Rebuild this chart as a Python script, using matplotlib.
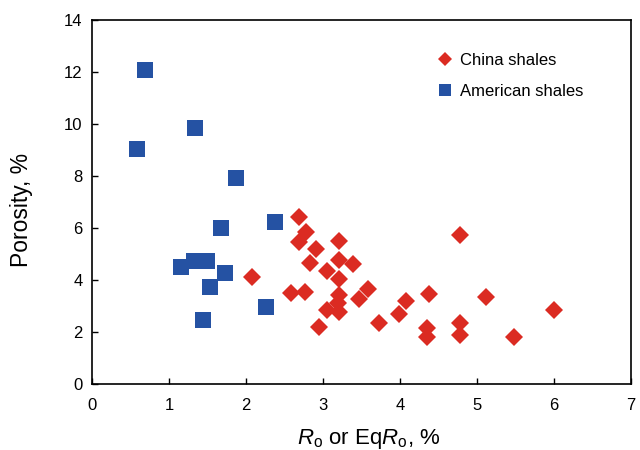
import matplotlib
matplotlib.use("Agg")
import matplotlib.pyplot as plt

plt.rcParams['font.family'] = ['Liberation Sans', 'DejaVu Sans']
plt.rcParams['mathtext.fontset'] = 'custom'
plt.rcParams['mathtext.rm'] = 'Liberation Sans'
plt.rcParams['mathtext.it'] = 'Liberation Sans:italic'

# China shales
china_ro = [2.07, 2.58, 2.76, 2.69, 2.69, 2.78, 2.91, 2.83, 2.95, 3.05, 3.05,
            3.20, 3.20, 3.20, 3.20, 3.19, 3.20, 3.39, 3.47, 3.58, 3.72, 3.98,
            4.08, 4.35, 4.35, 4.37, 4.78, 4.78, 4.78, 5.12, 5.48, 6.00]
china_por = [4.10, 3.48, 3.54, 6.43, 5.47, 5.84, 5.20, 4.63, 2.18, 4.35, 2.85,
             5.50, 4.77, 4.03, 3.42, 3.10, 2.78, 4.62, 3.27, 3.65, 2.35, 2.69,
             3.20, 2.14, 1.79, 3.47, 5.72, 2.35, 1.87, 3.34, 1.82, 2.83]

# American shales
us_ro = [0.68, 0.58, 1.34, 1.87, 1.68, 2.38, 1.15, 1.32, 1.49, 1.73, 1.53, 1.44, 2.26]
us_por = [12.08, 9.04, 9.83, 7.90, 6.00, 6.24, 4.49, 4.73, 4.73, 4.28, 3.72, 2.45, 2.96]

x_ticks = [0, 1, 2, 3, 4, 5, 6, 7]
y_ticks = [0, 2, 4, 6, 8, 10, 12, 14]

red = '#DB2B22'
blue = '#2552A3'

fig = plt.figure(figsize=(6.4, 4.5), dpi=100)
ax = fig.add_axes([0.144, 0.147, 0.842, 0.809])

ax.plot(china_ro, china_por, linestyle='none', marker='D', markersize=9.5,
        color=red, markeredgewidth=0, label='China shales')
ax.plot(us_ro, us_por, linestyle='none', marker='s', markersize=11.5,
        color=blue, markeredgewidth=0, label='American shales')

ax.set_xlim(0, 7)
ax.set_ylim(0, 14)
ax.set_xticks(x_ticks)
ax.set_yticks(y_ticks)
ax.tick_params(direction='in', length=4.5, width=1.0, labelsize=12,
               top=False, right=False)
ax.tick_params(axis='x', pad=10.5)
ax.tick_params(axis='y', pad=7)
for s in ax.spines.values():
    s.set_linewidth(1.2)

ax.set_xlabel(r'$\mathit{R}_{\mathrm{o}}$ or Eq$\mathit{R}_{\mathrm{o}}$, %', fontsize=16, labelpad=9.5)
ax.xaxis.label.set_x(0.513)
ax.set_ylabel('Porosity, %', fontsize=16.5)
ax.yaxis.set_label_coords(-0.109, 0.478)

leg = ax.legend(loc='upper left', bbox_to_anchor=(0.623, 0.9315), frameon=False,
                fontsize=12, borderpad=0, handlelength=1.0, handletextpad=0.45,
                labelspacing=0.95, markerscale=0.72)

fig.savefig('out.png', dpi=100)
